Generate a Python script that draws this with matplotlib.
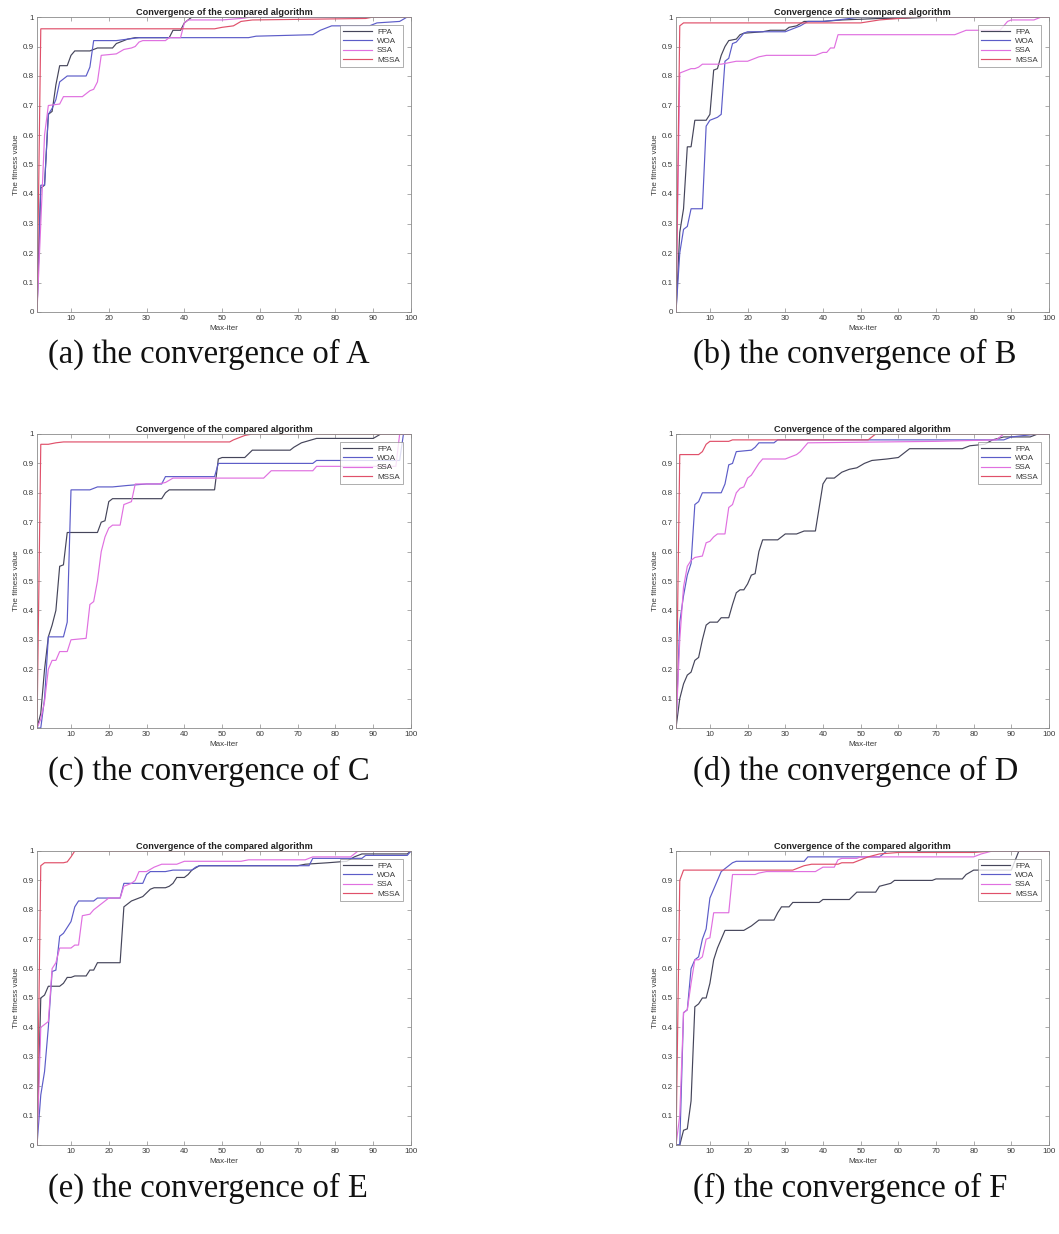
import matplotlib
matplotlib.use("Agg")
import matplotlib.pyplot as plt

# ---------------- data ----------------
series_names = ["FPA", "WOA", "SSA", "MSSA"]
series_colors = ["#45455a", "#5c5cc8", "#e070e0", "#e0506a"]
x_ticks = [10, 20, 30, 40, 50, 60, 70, 80, 90, 100]
y_ticks = [0, 0.1, 0.2, 0.3, 0.4, 0.5, 0.6, 0.7, 0.8, 0.9, 1.0]
y_tick_labels = ["0", "0.1", "0.2", "0.3", "0.4", "0.5", "0.6", "0.7", "0.8", "0.9", "1"]
captions = ["(a) the convergence of A", "(b) the convergence of B",
            "(c) the convergence of C", "(d) the convergence of D",
            "(e) the convergence of E", "(f) the convergence of F"]

# Panel A
a_fpa_x = [1, 2, 3, 4, 5, 6, 7, 9, 10, 11, 15, 16, 17, 21, 22, 24, 25, 27, 36, 37, 39, 40, 42, 100]
a_fpa_y = [0, 0.42, 0.43, 0.67, 0.68, 0.77, 0.835, 0.835, 0.87, 0.885, 0.885, 0.89, 0.895, 0.895,
           0.91, 0.92, 0.925, 0.93, 0.93, 0.955, 0.955, 0.98, 1.0, 1.0]
a_woa_x = [1, 2, 3, 4, 5, 6, 7, 8, 9, 14, 15, 16, 22, 25, 28, 57, 59, 74, 76, 79, 89, 91, 97, 99, 100]
a_woa_y = [0, 0.43, 0.43, 0.67, 0.69, 0.72, 0.78, 0.79, 0.80, 0.80, 0.83, 0.92, 0.92, 0.925, 0.93,
           0.93, 0.935, 0.94, 0.955, 0.97, 0.97, 0.98, 0.985, 1.0, 1.0]
a_ssa_x = [1, 2, 3, 4, 7, 8, 13, 14, 15, 16, 17, 18, 22, 24, 26, 27, 28, 29, 35, 36, 39, 40, 41,
           50, 55, 58, 100]
a_ssa_y = [0, 0.3, 0.6, 0.70, 0.705, 0.73, 0.73, 0.74, 0.75, 0.755, 0.78, 0.87, 0.875, 0.89, 0.895,
           0.9, 0.915, 0.92, 0.92, 0.93, 0.93, 0.98, 0.99, 0.99, 0.995, 1.0, 1.0]
a_mssa_x = [1, 2, 48, 50, 53, 55, 58, 88, 90, 100]
a_mssa_y = [0, 0.96, 0.96, 0.965, 0.97, 0.985, 0.99, 0.995, 1.0, 1.0]

# Panel B
b_fpa_x = [1, 2, 3, 4, 5, 6, 9, 10, 11, 12, 13, 14, 15, 17, 18, 19, 24, 26, 30, 31, 33, 35, 40,
           45, 55, 60, 70, 100]
b_fpa_y = [0, 0.27, 0.35, 0.56, 0.56, 0.65, 0.65, 0.67, 0.82, 0.825, 0.87, 0.9, 0.92, 0.925, 0.94,
           0.945, 0.95, 0.955, 0.955, 0.965, 0.97, 0.985, 0.985, 0.99, 0.995, 0.995, 1.0, 1.0]
b_woa_x = [1, 2, 3, 4, 5, 8, 9, 10, 12, 13, 14, 15, 16, 17, 18, 19, 20, 30, 32, 34, 36, 40, 44, 50, 100]
b_woa_y = [0, 0.2, 0.28, 0.29, 0.35, 0.35, 0.63, 0.65, 0.66, 0.67, 0.85, 0.86, 0.91, 0.915, 0.93,
           0.945, 0.95, 0.95, 0.96, 0.97, 0.985, 0.985, 0.99, 1.0, 1.0]
b_ssa_x = [1, 2, 4, 5, 6, 7, 8, 13, 15, 17, 20, 21, 23, 25, 38, 39, 40, 41, 42, 43, 44, 75, 76, 78,
           87, 88, 89, 90, 96, 98, 100]
b_ssa_y = [0, 0.81, 0.82, 0.825, 0.825, 0.83, 0.84, 0.84, 0.845, 0.85, 0.85, 0.855, 0.865, 0.87,
           0.87, 0.875, 0.88, 0.88, 0.895, 0.895, 0.94, 0.94, 0.945, 0.955, 0.955, 0.97, 0.985, 0.99,
           0.99, 1.0, 1.0]
b_mssa_x = [1, 2, 3, 50, 55, 65, 100]
b_mssa_y = [0, 0.97, 0.98, 0.98, 0.99, 1.0, 1.0]

# Panel C
c_fpa_x = [1, 2, 3, 4, 5, 6, 7, 8, 9, 17, 18, 19, 20, 21, 34, 35, 36, 48, 49, 50, 56, 58, 68, 69,
           71, 75, 90, 92, 100]
c_fpa_y = [0, 0.05, 0.2, 0.31, 0.35, 0.4, 0.55, 0.555, 0.665, 0.665, 0.7, 0.705, 0.77, 0.78, 0.78,
           0.8, 0.81, 0.81, 0.915, 0.92, 0.92, 0.945, 0.945, 0.955, 0.97, 0.985, 0.985, 1.0, 1.0]
c_woa_x = [1, 2, 3, 4, 8, 9, 10, 15, 17, 21, 25, 30, 34, 35, 48, 49, 74, 75, 97, 98, 100]
c_woa_y = [0, 0, 0.1, 0.31, 0.31, 0.36, 0.81, 0.81, 0.82, 0.82, 0.825, 0.83, 0.83, 0.855, 0.855,
           0.9, 0.9, 0.91, 0.91, 1.0, 1.0]
c_ssa_x = [1, 2, 3, 4, 5, 6, 7, 9, 10, 14, 15, 16, 17, 18, 19, 20, 21, 23, 24, 26, 27, 33, 35, 37,
           61, 63, 74, 75, 96, 97, 100]
c_ssa_y = [0, 0.03, 0.09, 0.2, 0.23, 0.23, 0.26, 0.26, 0.3, 0.305, 0.42, 0.43, 0.5, 0.6, 0.65,
           0.68, 0.69, 0.69, 0.76, 0.77, 0.83, 0.83, 0.835, 0.85, 0.85, 0.875, 0.875, 0.89, 0.89,
           1.0, 1.0]
c_mssa_x = [1, 2, 4, 6, 8, 52, 53, 56, 58, 100]
c_mssa_y = [0, 0.965, 0.965, 0.97, 0.973, 0.973, 0.98, 0.995, 1.0, 1.0]

# Panel D
d_fpa_x = [1, 2, 3, 4, 5, 6, 7, 8, 9, 10, 12, 13, 15, 16, 17, 18, 19, 20, 21, 22, 23, 24, 28, 29,
           30, 33, 35, 38, 39, 40, 41, 43, 45, 47, 49, 51, 53, 57, 60, 62, 63, 77, 79, 83, 85, 88,
           95, 97, 100]
d_fpa_y = [0, 0.1, 0.15, 0.18, 0.19, 0.23, 0.24, 0.3, 0.35, 0.36, 0.36, 0.375, 0.375, 0.42, 0.46,
           0.47, 0.47, 0.49, 0.52, 0.525, 0.6, 0.64, 0.64, 0.65, 0.66, 0.66, 0.67, 0.67, 0.75, 0.83,
           0.85, 0.85, 0.87, 0.88, 0.885, 0.9, 0.91, 0.915, 0.92, 0.94, 0.95, 0.95, 0.96, 0.965,
           0.98, 0.99, 0.99, 1.0, 1.0]
d_woa_x = [1, 2, 3, 4, 5, 6, 7, 8, 13, 14, 15, 16, 17, 21, 22, 23, 27, 28, 88, 90, 97, 100]
d_woa_y = [0, 0.36, 0.45, 0.52, 0.56, 0.76, 0.77, 0.8, 0.8, 0.83, 0.895, 0.9, 0.94, 0.945, 0.955,
           0.97, 0.97, 0.98, 0.98, 0.99, 1.0, 1.0]
d_ssa_x = [1, 2, 3, 4, 5, 6, 8, 9, 10, 11, 12, 14, 15, 16, 17, 18, 19, 20, 21, 22, 23, 24, 30, 31,
           33, 34, 35, 36, 70, 86, 88, 100]
d_ssa_y = [0, 0.3, 0.48, 0.55, 0.57, 0.58, 0.585, 0.63, 0.635, 0.65, 0.66, 0.66, 0.75, 0.76, 0.8,
           0.815, 0.82, 0.85, 0.86, 0.88, 0.9, 0.915, 0.915, 0.92, 0.93, 0.94, 0.955, 0.97, 0.975,
           0.98, 1.0, 1.0]
d_mssa_x = [1, 2, 7, 8, 9, 10, 15, 16, 52, 54, 100]
d_mssa_y = [0, 0.93, 0.93, 0.94, 0.965, 0.975, 0.975, 0.98, 0.98, 1.0, 1.0]

# Panel E
e_fpa_x = [1, 2, 3, 4, 7, 8, 9, 10, 11, 14, 15, 16, 17, 23, 24, 25, 26, 28, 29, 31, 32, 35, 36, 37,
           38, 40, 41, 42, 44, 70, 72, 78, 83, 85, 87, 99, 100]
e_fpa_y = [0, 0.5, 0.51, 0.54, 0.54, 0.55, 0.57, 0.57, 0.575, 0.575, 0.595, 0.595, 0.62, 0.62,
           0.81, 0.82, 0.83, 0.84, 0.845, 0.87, 0.875, 0.875, 0.88, 0.89, 0.91, 0.91, 0.92, 0.935,
           0.95, 0.95, 0.955, 0.96, 0.965, 0.98, 0.99, 0.99, 1.0]
e_woa_x = [1, 2, 3, 4, 5, 6, 7, 8, 9, 10, 11, 12, 16, 17, 23, 24, 29, 30, 31, 35, 37, 42, 43, 44,
           73, 74, 87, 88, 99, 100]
e_woa_y = [0, 0.17, 0.25, 0.4, 0.59, 0.595, 0.71, 0.72, 0.74, 0.76, 0.81, 0.83, 0.83, 0.84, 0.84,
           0.89, 0.89, 0.92, 0.93, 0.93, 0.935, 0.935, 0.945, 0.95, 0.95, 0.975, 0.975, 0.985,
           0.985, 1.0]
e_ssa_x = [1, 2, 3, 4, 5, 6, 7, 10, 11, 12, 13, 15, 16, 17, 19, 20, 23, 24, 26, 27, 28, 30, 32, 34,
           38, 40, 55, 57, 72, 74, 84, 86, 100]
e_ssa_y = [0, 0.4, 0.41, 0.42, 0.6, 0.62, 0.67, 0.67, 0.68, 0.68, 0.78, 0.785, 0.8, 0.81, 0.83,
           0.84, 0.84, 0.88, 0.89, 0.9, 0.93, 0.93, 0.945, 0.955, 0.955, 0.965, 0.965, 0.97, 0.97,
           0.98, 0.98, 1.0, 1.0]
e_mssa_x = [1, 2, 3, 8, 9, 10, 11, 100]
e_mssa_y = [0, 0.95, 0.96, 0.96, 0.963, 0.98, 1.0, 1.0]

# Panel F
f_fpa_x = [1, 2, 3, 4, 5, 6, 7, 8, 9, 10, 11, 12, 13, 14, 19, 21, 23, 27, 28, 29, 31, 32, 39, 40,
           47, 49, 54, 55, 58, 59, 69, 70, 77, 78, 80, 90, 92, 100]
f_fpa_y = [0, 0, 0.05, 0.055, 0.15, 0.47, 0.48, 0.5, 0.5, 0.55, 0.63, 0.67, 0.7, 0.73, 0.73, 0.745,
           0.765, 0.765, 0.79, 0.81, 0.81, 0.825, 0.825, 0.835, 0.835, 0.86, 0.86, 0.88, 0.89, 0.9,
           0.9, 0.905, 0.905, 0.92, 0.935, 0.935, 1.0, 1.0]
f_woa_x = [1, 2, 3, 4, 5, 6, 7, 8, 9, 10, 11, 12, 13, 14, 15, 16, 17, 35, 36, 55, 57, 100]
f_woa_y = [0, 0, 0.45, 0.46, 0.6, 0.63, 0.64, 0.7, 0.735, 0.84, 0.87, 0.9, 0.93, 0.94, 0.95, 0.96,
           0.965, 0.965, 0.98, 0.98, 1.0, 1.0]
f_ssa_x = [1, 2, 3, 4, 5, 6, 7, 8, 9, 10, 11, 15, 16, 22, 23, 25, 38, 40, 43, 44, 45, 49, 50, 80,
           82, 85, 100]
f_ssa_y = [0, 0.1, 0.45, 0.46, 0.55, 0.63, 0.63, 0.64, 0.7, 0.705, 0.79, 0.79, 0.92, 0.92, 0.925,
           0.93, 0.93, 0.945, 0.945, 0.97, 0.975, 0.975, 0.98, 0.98, 0.99, 1.0, 1.0]
f_mssa_x = [1, 2, 3, 32, 33, 35, 37, 44, 45, 48, 50, 52, 55, 60, 80, 85, 100]
f_mssa_y = [0, 0.9, 0.935, 0.935, 0.94, 0.95, 0.955, 0.955, 0.96, 0.96, 0.97, 0.98, 0.99, 0.995,
            0.995, 1.0, 1.0]

panels = [
    [(a_fpa_x, a_fpa_y), (a_woa_x, a_woa_y), (a_ssa_x, a_ssa_y), (a_mssa_x, a_mssa_y)],
    [(b_fpa_x, b_fpa_y), (b_woa_x, b_woa_y), (b_ssa_x, b_ssa_y), (b_mssa_x, b_mssa_y)],
    [(c_fpa_x, c_fpa_y), (c_woa_x, c_woa_y), (c_ssa_x, c_ssa_y), (c_mssa_x, c_mssa_y)],
    [(d_fpa_x, d_fpa_y), (d_woa_x, d_woa_y), (d_ssa_x, d_ssa_y), (d_mssa_x, d_mssa_y)],
    [(e_fpa_x, e_fpa_y), (e_woa_x, e_woa_y), (e_ssa_x, e_ssa_y), (e_mssa_x, e_mssa_y)],
    [(f_fpa_x, f_fpa_y), (f_woa_x, f_woa_y), (f_ssa_x, f_ssa_y), (f_mssa_x, f_mssa_y)],
]

# ---------------- layout ----------------
W, H = 1059, 1234
fig = plt.figure(figsize=(W / 100, H / 100), dpi=100)
col_left = [37, 676]
col_width = [374, 373]
row_top = [17, 434, 851]
row_height = [295, 294, 294]
caption_x = [48, 693]
caption_y = [354, 771, 1188]

sans = ["Liberation Sans", "DejaVu Sans"]
axis_gray = "#8a8a8a"
text_gray = "#3a3a3a"

for i, series in enumerate(panels):
    r, c = divmod(i, 2)
    rect = [col_left[c] / W, 1 - (row_top[r] + row_height[r]) / H,
            col_width[c] / W, row_height[r] / H]
    ax = fig.add_axes(rect)
    for (xs, ys), name, col in zip(series, series_names, series_colors):
        ax.plot(xs, ys, color=col, lw=0.85, label=name, solid_joinstyle="miter")
    ax.set_xlim(1, 100)
    ax.set_ylim(0, 1)
    ax.set_xticks(x_ticks)
    ax.set_yticks(y_ticks)
    ax.set_yticklabels(y_tick_labels)
    ax.tick_params(direction="in", top=True, right=True, length=3, width=0.5,
                   labelsize=5.8, colors=axis_gray, labelcolor=text_gray, pad=2)
    for lab in ax.get_xticklabels() + ax.get_yticklabels():
        lab.set_family(sans)
    for s in ax.spines.values():
        s.set_color(axis_gray)
        s.set_linewidth(0.6)
    ax.set_title("Convergence of the compared algorithm", fontsize=6.6, fontweight="bold",
                 family=sans, color="#222222", pad=1.5)
    ax.set_xlabel("Max-iter", fontsize=5.8, family=sans, color=text_gray, labelpad=2)
    ax.set_ylabel("The fitness value", fontsize=5.8, family=sans, color=text_gray, labelpad=2)
    leg = ax.legend(loc="upper right", prop={"family": sans, "size": 5.8}, frameon=True,
                    fancybox=False, edgecolor=axis_gray, handlelength=3.6, handletextpad=0.6,
                    borderpad=0.4, labelspacing=0.2, borderaxespad=1.0)
    leg.get_frame().set_linewidth(0.6)
    for t in leg.get_texts():
        t.set_color(text_gray)
    fig.text(caption_x[c] / W, 1 - caption_y[r] / H, captions[i], ha="left", va="center",
             fontsize=23.5, family=["Liberation Serif", "DejaVu Serif"], color="#111111")

fig.savefig("out.png", dpi=100)
